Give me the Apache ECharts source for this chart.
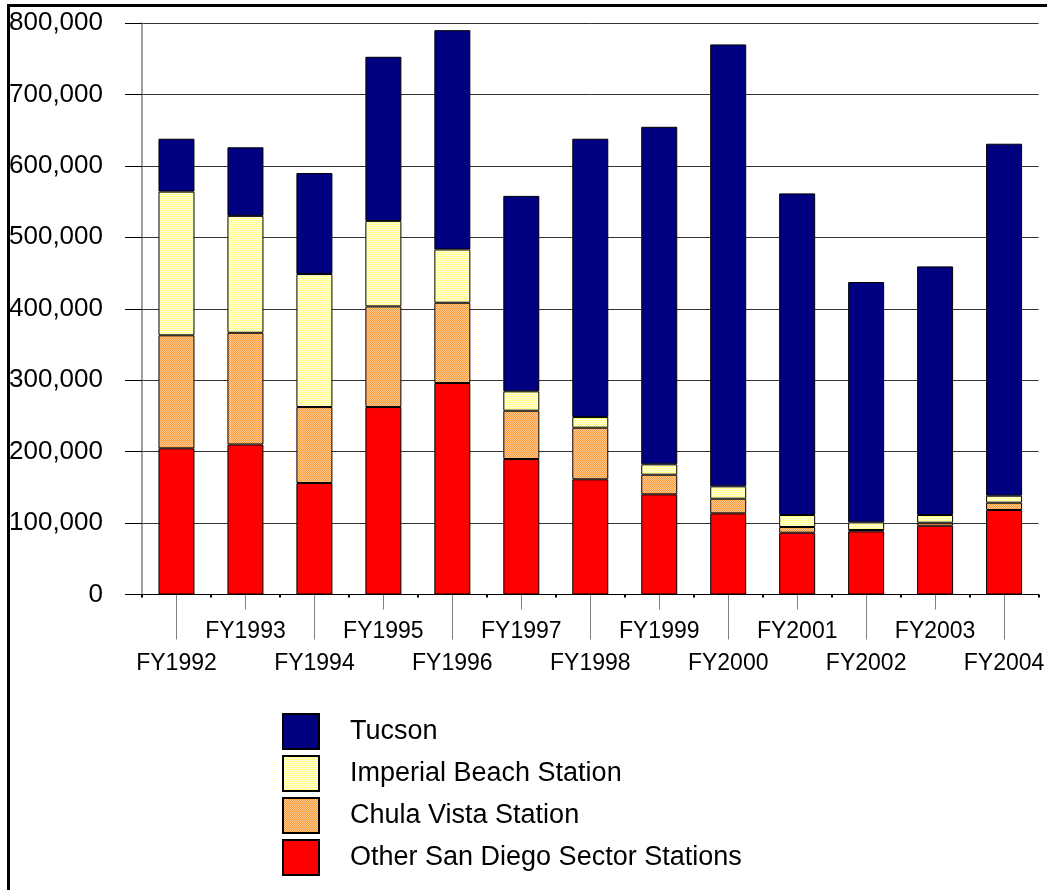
<!DOCTYPE html>
<html>
<head>
<meta charset="utf-8">
<script src="https://cdn.jsdelivr.net/npm/echarts@6/dist/echarts.min.js"></script>
<style>
  html, body { margin: 0; padding: 0; background: #fff; }
  #chart { width: 1047px; height: 890px; }
</style>
</head>
<body>
<div id="chart"></div>
<script>
// Apprehensions by fiscal year, stacked by station
const years = ['FY1992', 'FY1993', 'FY1994', 'FY1995', 'FY1996', 'FY1997', 'FY1998',
               'FY1999', 'FY2000', 'FY2001', 'FY2002', 'FY2003', 'FY2004'];
const otherSanDiego = [204600, 210000, 156000, 262400, 296000, 189600, 161200, 140200, 113600, 86500, 88400, 96300, 118300];
const chulaVista    = [158200, 156400, 106400, 140900, 112400, 67700, 72300, 27500, 20500, 8000, 1900, 4200, 10200];
const imperialBeach = [201200, 163600, 186200, 119700, 74600, 27100, 14900, 14500, 17300, 16800, 10700, 10800, 9800];
const tucson        = [74000, 96000, 141400, 229700, 307000, 273600, 389600, 472500, 618600, 450200, 336400, 348000, 492700];

const seriesNames = ['Tucson', 'Imperial Beach Station', 'Chula Vista Station', 'Other San Diego Sector Stations'];
const yTicks = { min: 0, max: 800000, step: 100000 };

const FONT = '"Liberation Sans", Arial, sans-serif';

// fine two-tone dotted tiles used as hatched fills
function dotTile(c1, c2) {
  const cv = document.createElement('canvas');
  cv.width = 2; cv.height = 2;
  const g = cv.getContext('2d');
  g.fillStyle = c1; g.fillRect(0, 0, 2, 2);
  g.fillStyle = c2; g.fillRect(1, 0, 1, 1); g.fillRect(0, 1, 1, 1);
  return { image: cv, repeat: 'repeat' };
}
const yellowDots = dotTile('#FFFF80', '#FFFFE6');
const orangeDots = dotTile('#FF9933', '#FFCC99');

const chart = echarts.init(document.getElementById('chart'), null, { renderer: 'canvas' });

function barSeries(name, data, color) {
  return {
    name: name,
    type: 'bar',
    stack: 'total',
    xAxisIndex: 0,
    barWidth: 36,
    data: data,
    itemStyle: { color: color, borderColor: '#000', borderWidth: 1 },
    emphasis: { disabled: true },
    animation: false
  };
}

const catAxisBase = {
  type: 'category',
  data: years,
  position: 'bottom',
  gridIndex: 0
};

chart.setOption({
  backgroundColor: '#fff',
  animation: false,
  grid: { left: 142, top: 23, width: 906, height: 571.5, containLabel: false },
  graphic: [{
    type: 'rect',
    shape: { x: 8.5, y: 5.5, width: 1200, height: 1000 },
    style: { fill: 'none', stroke: '#000', lineWidth: 3 },
    silent: true,
    z: 100
  }],
  legend: {
    data: seriesNames,
    orient: 'vertical',
    left: 282,
    top: 713,
    padding: 0,
    itemWidth: 36,
    itemHeight: 35,
    itemGap: 5,
    icon: 'rect',
    selectedMode: false,
    textStyle: { fontFamily: FONT, fontSize: 27, color: '#000', padding: [0, 0, 0, 26] }
  },
  xAxis: [
    Object.assign({}, catAxisBase, {
      axisLine: { show: true, lineStyle: { color: '#000', width: 1 } },
      axisTick: { show: true, alignWithLabel: false, length: 3, lineStyle: { color: '#000', width: 2 } },
      axisLabel: { show: false },
      splitLine: { show: false }
    }),
    Object.assign({}, catAxisBase, {
      axisLine: { show: false },
      axisTick: { show: true, alignWithLabel: true, length: 45, interval: (i) => i % 2 === 0,
                  lineStyle: { color: '#808080', width: 1 } },
      axisLabel: { show: true, interval: (i) => i % 2 === 0, margin: 58,
                   fontFamily: FONT, fontSize: 23, color: '#000' },
      splitLine: { show: false }
    }),
    Object.assign({}, catAxisBase, {
      axisLine: { show: false },
      axisTick: { show: true, alignWithLabel: true, length: 15, interval: (i) => i % 2 === 1,
                  lineStyle: { color: '#808080', width: 1 } },
      axisLabel: { show: true, interval: (i) => i % 2 === 1, margin: 26,
                   fontFamily: FONT, fontSize: 23, color: '#000' },
      splitLine: { show: false }
    })
  ],
  yAxis: {
    type: 'value',
    min: yTicks.min,
    max: yTicks.max,
    interval: yTicks.step,
    axisLine: { show: true, lineStyle: { color: '#808080', width: 1.5 } },
    axisTick: { show: true, length: 17, lineStyle: { color: '#000', width: 1 } },
    axisLabel: {
      margin: 39,
      fontFamily: FONT,
      fontSize: 26,
      color: '#000',
      formatter: (v) => v.toLocaleString('en-US')
    },
    splitLine: { show: true, lineStyle: { color: '#333', width: 1 } }
  },
  series: [
    barSeries('Other San Diego Sector Stations', otherSanDiego, '#FF0000'),
    barSeries('Chula Vista Station', chulaVista, orangeDots),
    barSeries('Imperial Beach Station', imperialBeach, yellowDots),
    barSeries('Tucson', tucson, '#000080')
  ]
});
</script>
</body>
</html>
